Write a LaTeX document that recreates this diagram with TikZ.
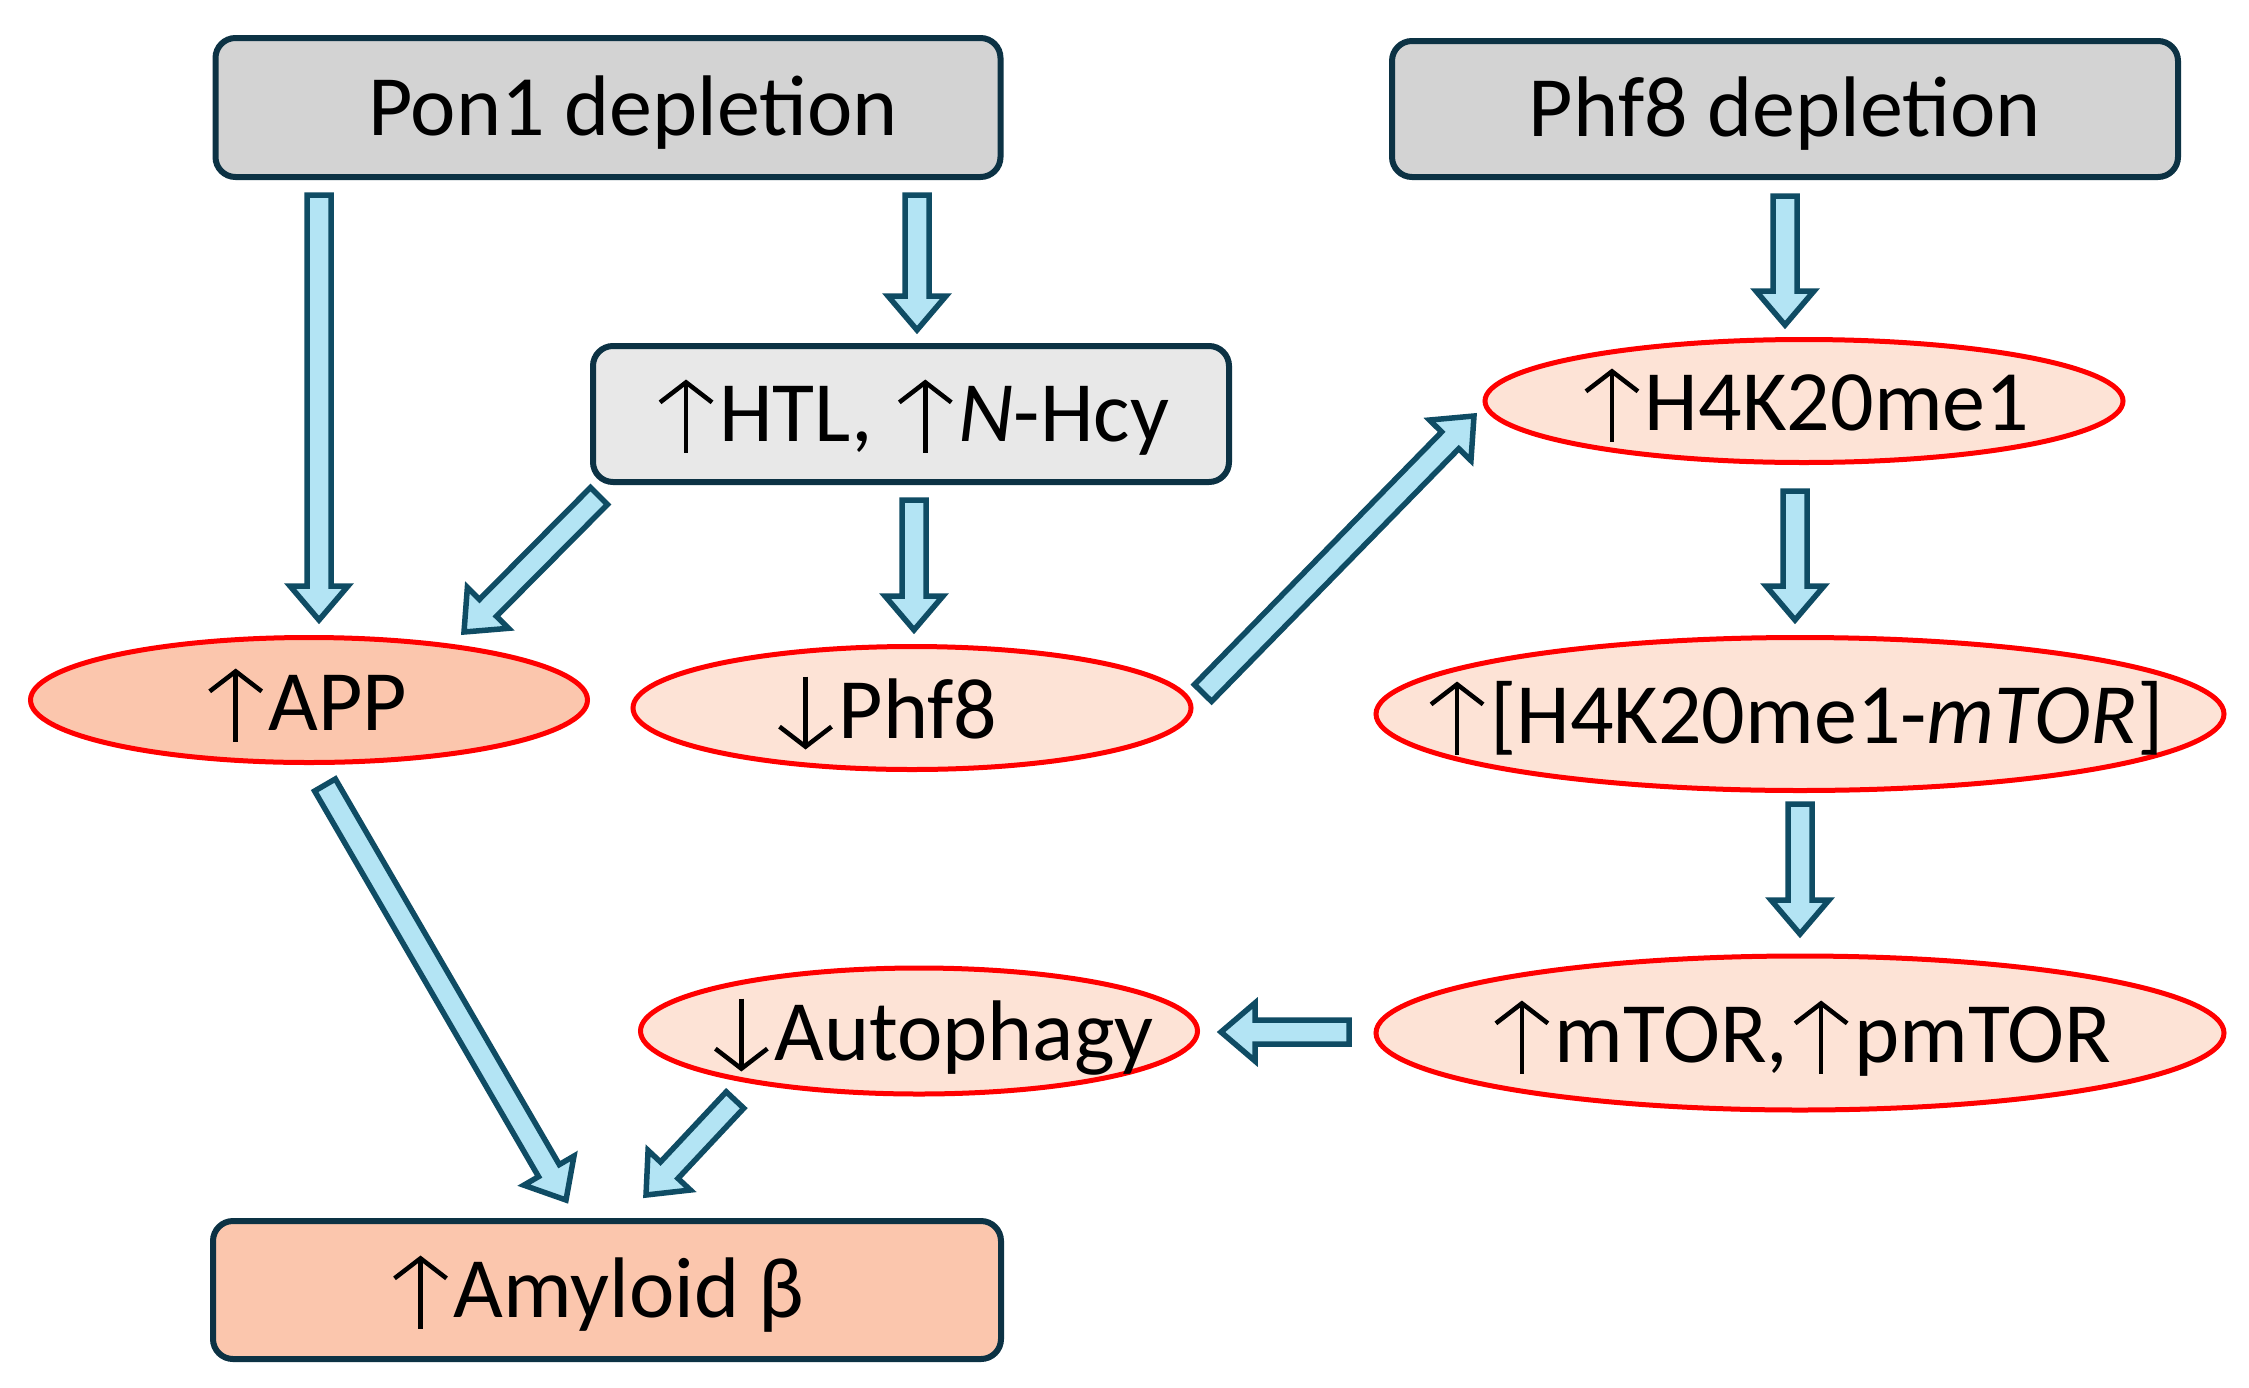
\documentclass[tikz,border=0pt]{standalone}
\usepackage{fontspec}
\setmainfont{Carlito}
\usetikzlibrary{shapes.geometric,calc,arrows.meta}
\definecolor{boxgray}{HTML}{D3D3D3}
\definecolor{boxlight}{HTML}{E8E8E8}
\definecolor{boxline}{HTML}{0C3244}
\definecolor{salmon}{HTML}{FBC6AD}
\definecolor{peach}{HTML}{FDE3D6}
\definecolor{ellred}{HTML}{FF0000}
\definecolor{arrfill}{HTML}{B3E4F4}
\definecolor{arrline}{HTML}{0F4C64}
\newcommand\up{\tikz[baseline=0pt, x=1pt, y=1pt]{\path (-4pt,0pt) (62pt,0pt);
  \draw[line width=4.5pt, -{Straight Barb[length=20pt,width=52pt,line width=4.5pt]}] (29pt,-11pt) -- (29pt,62pt);}}
\newcommand\down{\tikz[baseline=0pt, x=1pt, y=1pt]{\path (-4pt,0pt) (62pt,0pt);
  \draw[line width=4.5pt, -{Straight Barb[length=20pt,width=52pt,line width=4.5pt]}] (29pt,62pt) -- (29pt,-11pt);}}
\newcommand\blockarr[2]{%
  \coordinate (ba-b) at ($(#2)!34pt!(#1)$);
  \filldraw[barrow] ($(#1)!12pt!90:(#2)$) -- ($(ba-b)!12pt!90:(#2)$) -- ($(ba-b)!29pt!90:(#2)$) -- (#2)
    -- ($(ba-b)!29pt!-90:(#2)$) -- ($(ba-b)!12pt!-90:(#2)$) -- ($(#1)!12pt!-90:(#2)$) -- cycle;
}
\tikzset{
  txt/.style={font=\fontsize{86pt}{98pt}\selectfont, inner sep=0pt, text height=55pt, text depth=0pt},
  rbox/.style={draw=boxline, line width=6pt, rounded corners=20pt, inner sep=0pt,
    font=\fontsize{86pt}{98pt}\selectfont, text height=55pt, text depth=0pt},
  ell/.style={ellipse, draw=ellred, line width=5pt, inner sep=0pt},
  barrow/.style={fill=arrfill, draw=arrline, line width=5.5pt, line join=miter},
}
\begin{document}
\begin{tikzpicture}[x=1pt,y=-1pt]
\useasboundingbox[fill=white] (0,0) rectangle (2249,1387);
% boxes
\node[rbox, fill=boxgray, minimum width=785pt, minimum height=139pt] (pon) at (608,107.5) {\hspace*{50pt}Pon1 depletion};
\node[rbox, fill=boxgray, minimum width=786pt, minimum height=136pt] (phfd) at (1785,109) {Phf8 depletion};
\node[rbox, fill=boxlight, minimum width=636pt, minimum height=136pt] (htl) at (911,414) {\up HTL, \up\textit{N}-Hcy};
\node[rbox, fill=salmon, minimum width=788pt, minimum height=138pt] (amy) at (607,1290) {\hspace*{-22pt}\up Amyloid β};
% ellipses
\node[ell, fill=salmon, minimum width=557pt, minimum height=125pt] (app) at (309,700) {};
\node[ell, fill=peach, minimum width=558pt, minimum height=123pt] (phf) at (912,708) {};
\node[ell, fill=peach, minimum width=638pt, minimum height=123pt] (h4) at (1804,401) {};
\node[ell, fill=peach, minimum width=848pt, minimum height=153pt] (cx) at (1800,714) {};
\node[ell, fill=peach, minimum width=848pt, minimum height=154pt] (mt) at (1800,1033) {};
\node[ell, fill=peach, minimum width=557pt, minimum height=126pt] (aut) at (919,1031) {};
% ellipse texts
\node[txt] (app-t) at ([xshift=-4pt,yshift=-3pt]app.center) {\up APP};
\node[txt] (phf-t) at ([xshift=-27pt,yshift=-3pt]phf.center) {\down Phf8};
\node[txt] (h4-t) at ([yshift=-2pt]h4.center) {\up H4K20me1};
\node[txt] (cx-t) at ([xshift=-6pt,yshift=-2pt]cx.center) {\up[H4K20me1-\textit{mTOR}]};
\node[txt] (mt-t) at ([yshift=-2pt]mt.center) {\up mTOR,\up pmTOR};
\node[txt] (aut-t) at ([xshift=12pt,yshift=-2pt]aut.center) {\down Autophagy};
% arrow end points
\coordinate (a1s) at (319,195);  \coordinate (a1t) at (319,620);
\coordinate (a2s) at (917,195);  \coordinate (a2t) at (917,330);
\coordinate (a3s) at (599,496);  \coordinate (a3t) at (464,632);
\coordinate (a4s) at (914,500);  \coordinate (a4t) at (914,630);
\coordinate (a5s) at (1203,693); \coordinate (a5t) at (1474,416);
\coordinate (a6s) at (1785,196); \coordinate (a6t) at (1785,325);
\coordinate (a7s) at (1795,491); \coordinate (a7t) at (1795,620);
\coordinate (a8s) at (1800,804); \coordinate (a8t) at (1800,934);
\coordinate (a9s) at (1349,1032); \coordinate (a9t) at (1221,1032);
\coordinate (a10s) at (325,785); \coordinate (a10t) at (566,1200);
\coordinate (a11s) at (735,1100); \coordinate (a11t) at (646,1195);
\blockarr{a1s}{a1t}
\blockarr{a2s}{a2t}
\blockarr{a3s}{a3t}
\blockarr{a4s}{a4t}
\blockarr{a5s}{a5t}
\blockarr{a6s}{a6t}
\blockarr{a7s}{a7t}
\blockarr{a8s}{a8t}
\blockarr{a9s}{a9t}
\blockarr{a10s}{a10t}
\blockarr{a11s}{a11t}
\end{tikzpicture}
\end{document}
